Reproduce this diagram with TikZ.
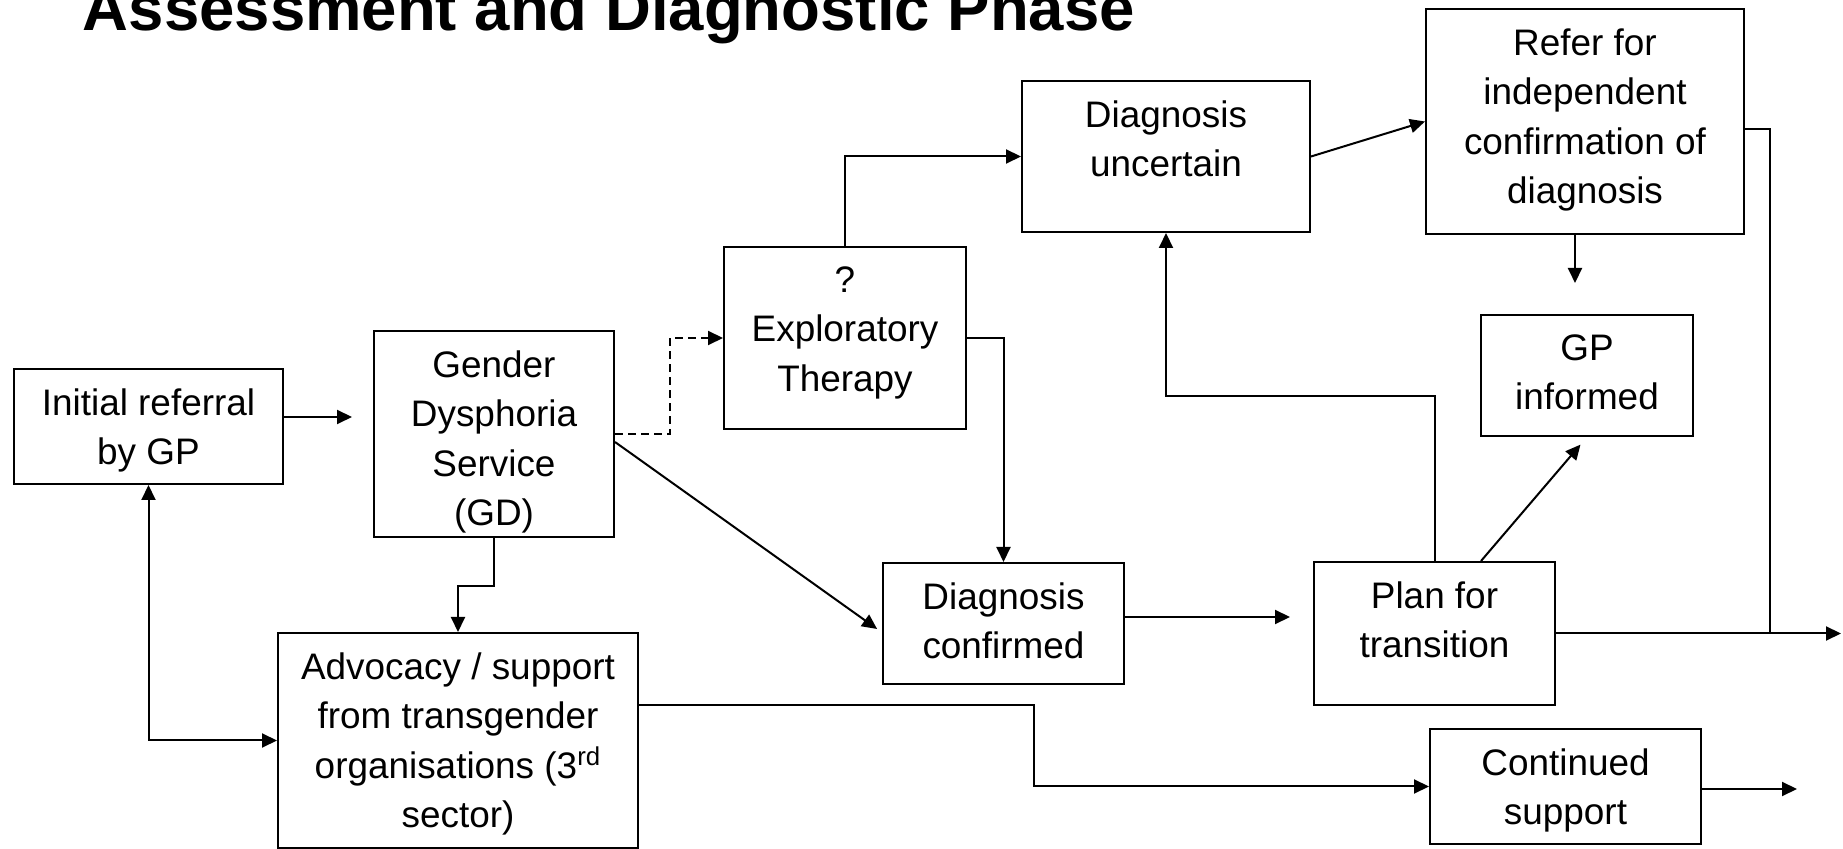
\documentclass[tikz,border=0pt]{standalone}
\usepackage{fontspec}
\setmainfont{Liberation Sans}
\usetikzlibrary{arrows.meta,calc}
\newcommand\bt[3]{\parbox[c][#2][t]{#1}{\centering\vspace*{10pt}#3\par}}
\tikzset{
  box/.style={draw, line width=1pt, inner sep=0pt, font=\fontsize{18.45pt}{24.6pt}\selectfont},
  conn/.style={line width=1pt},
  arr/.style={conn, -{Triangle[length=7.5pt,width=7pt]}},
  darr/.style={conn, {Triangle[length=7.5pt,width=7pt]}-{Triangle[length=7.5pt,width=7pt]}},
  dashline/.style={dash pattern=on 4pt off 2.5pt},
}
\begin{document}
\begin{tikzpicture}[x=0.5pt,y=-0.5pt]
\useasboundingbox (0,0) rectangle (1843,849);
\node[anchor=base west, inner sep=0pt, font=\fontsize{31.76pt}{38pt}\selectfont\bfseries] (title) at (82.5,30.7) {Assessment and Diagnostic Phase};

\node[box] (init) at (148.5,426.5) {\bt{134.5pt}{57.5pt}{Initial referral\\by GP}};
\node[box] (gds) at (494,434) {\bt{120pt}{103pt}{Gender\\Dysphoria\\Service\\(GD)}};
\node[box] (adv) at (458,740.5) {\bt{180pt}{107.5pt}{Advocacy / support\\from transgender\\organisations (3\textsuperscript{rd}\\sector)}};
\node[box] (expl) at (845,338) {\bt{121pt}{91pt}{?\\Exploratory\\Therapy}};
\node[box] (unc) at (1166,156.5) {\bt{144pt}{75.5pt}{Diagnosis\\uncertain}};
\node[box] (refer) at (1585,121.5) {\bt{159pt}{112.5pt}{Refer for\\independent\\confirmation of\\diagnosis}};
\node[box] (gpi) at (1587,375.5) {\bt{106pt}{60.5pt}{GP\\informed}};
\node[box] (plan) at (1434.5,633.5) {\bt{120.5pt}{71.5pt}{Plan for\\transition}};
\node[box] (conf) at (1003.5,623.5) {\bt{120.5pt}{60.5pt}{Diagnosis\\confirmed}};
\node[box] (cont) at (1565.5,786.5) {\bt{135.5pt}{57.5pt}{Continued\\support}};

\coordinate (exitA) at (1841,633.5);
\coordinate (joinA) at (1770,633.5);
\coordinate (exitB) at (1797,789);

\draw[arr, shorten >=10.5pt] (init.east |- 0,417) -- (gds.west |- 0,417);
\draw[darr] (init.south) |- (adv.west);
\draw[arr] (gds.south) -- ++(0,48) -| (adv.north);
\draw[arr, dashline] (gds.east) -- ++(55,0) |- (expl.west);
\draw[arr, shorten >=3pt] (gds.east |- 0,442) -- ([yshift=-4.5pt]conf.west);
\draw[arr] (expl.north) |- (unc.west);
\draw[arr] (expl.east) -| (conf.north);
\draw[arr] (unc.east) -- (refer.west);
\draw[arr] ([xshift=-5pt]refer.south) -- ++(0,48);
\draw[arr, shorten >=5pt] (plan.north -| 1481,0) -- (gpi.south);
\draw[arr] (plan.north) -- ++(0,-165) -| (unc.south);
\draw[arr, shorten >=11.5pt] (conf.east |- 0,617) -- (plan.west |- 0,617);
\draw[arr] (plan.east) -- (exitA);
\draw[conn] (refer.east |- 0,129) -| (joinA);
\draw[arr] (adv.east |- 0,705.5) -- (1034,705.5) |- (cont.west);
\draw[arr] (cont.east |- 0,789) -- (exitB);
\end{tikzpicture}
\end{document}
